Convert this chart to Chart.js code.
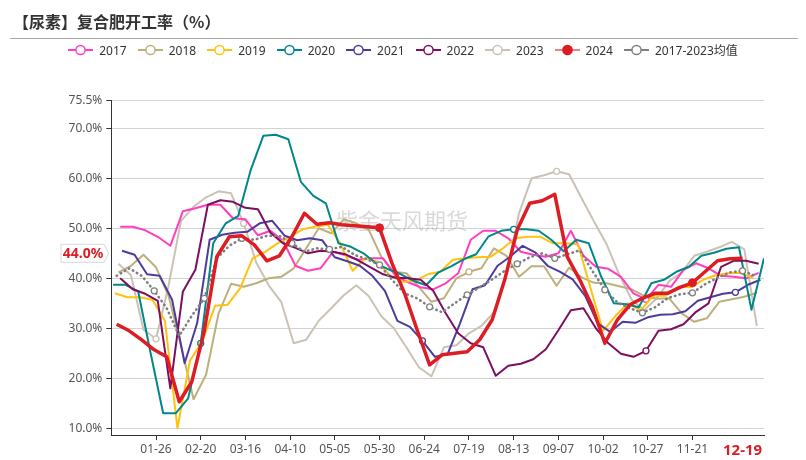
<!DOCTYPE html>
<html><head><meta charset="utf-8">
<script src="https://cdn.jsdelivr.net/npm/chart.js@4.4.1/dist/chart.umd.min.js"></script>
<style>
html,body{margin:0;padding:0;background:#fff;}
#wrap{position:relative;width:806px;height:460px;overflow:hidden;font-family:"Noto Sans","Noto Sans CJK SC",sans-serif;}
canvas{position:absolute;left:0;top:0;}
#title{position:absolute;left:13px;top:9px;font:bold 16px/24px "Noto Sans CJK SC",sans-serif;color:#333;white-space:nowrap;}
#sep{position:absolute;left:10px;top:38px;width:788px;height:0;border-top:1px solid #a8a8a8;}
#legend{position:absolute;left:0;top:42px;width:806px;height:16px;display:flex;justify-content:center;align-items:center;font-size:12px;color:#333;white-space:nowrap;}
.item{display:flex;align-items:center;margin:0 5.5px;}
.item svg{margin-right:6px;}
</style></head>
<body>
<div id="wrap">
<canvas id="c" width="806" height="460"></canvas>
<div id="title">【尿素】复合肥开工率（%）</div>
<div id="sep"></div>
<div id="legend"></div>
</div>
<script>
// ---- data (weekly readings, percent) ----
const seriesNames = ['2017','2018','2019','2020','2021','2022','2023','2024','2017-2023均值'];
const startDays = [6,5,3,2,7,6,5,4,4]; // day-of-year of first weekly reading
const v2017 = [50.3,50.3,49.6,48.3,46.5,53.4,54.0,54.7,54.7,52.0,51.8,48.6,49.5,47.5,42.5,41.5,42.0,45.3,44.6,43.7,44.0,44.0,40.5,39.2,38.2,37.8,39.0,41.0,47.7,49.5,49.5,48.0,45.3,44.7,44.3,45.0,49.5,44.5,42.3,41.9,40.3,37.0,35.8,38.7,38.3,41.7,43.0,42.0,40.5,40.3,40.0,41.1];
const v2018 = [41.2,42.5,44.7,42.2,36.5,26.5,15.8,20.7,33.0,38.9,38.3,39.0,40.0,40.3,42.0,46.0,50.0,49.0,51.8,51.0,49.7,44.3,41.3,41.0,38.3,35.3,36.0,40.0,41.3,42.0,46.0,44.5,40.3,42.4,42.4,38.5,42.1,40.2,39.1,39.0,38.4,37.8,36.5,35.9,36.0,33.0,31.3,32.0,35.3,35.8,36.3,37.1];
const v2019 = [37.0,36.2,36.2,35.7,31.5,10.0,23.5,27.5,34.5,34.7,38.0,44.0,45.3,47.0,48.3,49.8,50.3,50.7,47.0,41.5,44.0,43.3,40.5,39.3,39.5,40.8,41.3,43.7,44.0,44.2,44.3,46.0,48.0,48.3,48.3,47.0,47.0,46.8,38.0,29.5,32.5,35.0,33.6,36.5,36.5,38.3,38.2,39.7,40.6,41.0,41.1,40.0];
const v2020 = [38.7,38.7,37.4,25.0,13.0,13.0,16.0,27.0,47.0,51.0,52.5,61.7,68.5,68.7,67.8,59.3,56.5,55.0,47.0,46.3,45.0,43.0,41.8,40.8,39.5,38.6,41.2,42.4,43.8,44.8,48.4,49.5,49.8,49.8,49.5,47.7,45.4,47.7,47.0,40.3,35.0,34.8,34.2,39.0,39.7,41.3,42.3,44.5,45.1,45.9,46.2,33.7,44.0];
const v2021 = [45.5,44.7,40.8,40.5,35.7,23.0,31.0,47.7,48.7,49.1,49.3,51.0,51.5,48.5,47.6,48.0,47.6,44.2,43.4,42.5,40.5,37.5,31.5,30.3,27.5,24.3,24.8,31.0,37.8,38.6,42.5,44.3,46.5,45.2,42.5,41.3,39.8,36.5,31.0,29.3,31.3,31.1,32.2,32.7,32.8,33.4,35.5,36.2,36.9,37.2,38.7,39.7];
const v2022 = [40.0,37.8,36.9,35.5,18.0,37.3,41.7,54.7,55.6,55.3,54.1,53.8,49.1,47.0,46.1,45.0,45.5,45.3,44.8,43.6,42.2,40.8,40.1,40.0,39.7,37.5,33.0,29.0,27.0,26.2,20.5,22.5,22.9,23.8,25.8,29.6,33.6,34.0,30.0,27.0,24.9,24.3,25.5,29.5,29.8,30.8,33.3,35.0,42.3,43.5,43.5,42.9];
const v2023 = [42.9,40.6,29.7,27.9,38.5,51.5,54.3,56.2,57.4,57.0,51.0,43.2,38.6,35.3,27.0,27.7,31.5,34.0,36.6,38.6,36.4,32.4,30.0,26.2,22.2,20.4,26.2,26.6,29.0,30.5,33.2,41.0,53.0,60.0,60.6,61.4,60.8,56.0,51.3,46.8,40.8,35.7,33.6,36.0,39.4,41.2,44.5,45.3,46.2,47.3,45.8,30.5];
const v2024 = [30.8,29.5,27.7,25.7,24.3,15.3,19.3,29.5,44.3,48.3,48.5,46.7,43.5,44.5,48.3,53.0,50.8,51.1,50.7,50.5,50.3,50.1,43.0,37.0,29.7,22.7,24.7,25.0,25.3,27.7,31.7,39.7,49.7,55.0,55.5,56.8,44.3,39.7,34.3,27.0,31.7,34.7,36.0,37.0,37.0,38.2,39.1,41.3,43.5,43.9,44.0];
const vAvg  = [40.5,42.0,40.5,37.5,34.0,28.5,32.5,36.0,44.0,46.5,48.0,47.7,48.5,48.5,47.0,45.3,46.0,45.8,46.3,44.7,43.8,42.7,39.7,37.0,36.0,34.3,33.2,35.0,36.7,38.2,39.8,41.5,42.9,44.2,45.0,44.0,44.8,45.6,41.5,37.7,35.2,34.0,33.1,34.2,36.0,36.8,37.1,38.8,40.1,41.2,41.5,40.5];
const allValues = [v2017,v2018,v2019,v2020,v2021,v2022,v2023,v2024,vAvg];
const xTickDays = [26,51,76,101,126,151,176,201,226,251,276,301,326,354]; // 01-26 ... 11-21, 12-19
const currentDay = 354;
const yTicks = [10,20,30,40,50,60,70,75.5];
const currentValue = 44.0;
const markerDays = [[301],[201],[],[51,226],[176,351],[301],[26,76,251],[151,326],[26,51,76,101,126,151,176,201,226,251,276,301,326,351]];

// ---- styles ----
const colors = ['#FF3EC0','#BDB07C','#FFC20E','#00878C','#4E3B9C','#7D0F5E','#CBC2B4','#DE1C24','#808080'];
const orders = [6,7,5,3,4,2,8,0,1];

function fmtDay(d){
  const dt = new Date(2024,0,d);
  const m = String(dt.getMonth()+1).padStart(2,'0');
  const dd = String(dt.getDate()).padStart(2,'0');
  return m+'-'+dd;
}

const datasets = allValues.map((vals,si)=>{
  const start = startDays[si];
  const isCur = si===7, isAvg = si===8;
  return {
    label: seriesNames[si],
    data: vals.map((v,i)=>({x:start+7*i, y:v})),
    borderColor: colors[si],
    backgroundColor: colors[si],
    borderWidth: isCur?3.5:(isAvg?2.6:2),
    borderDash: isAvg?[0.5,4.2]:[],
    borderCapStyle: isAvg?'round':'butt',
    borderJoinStyle:'round',
    tension:0,
    order: orders[si],
    pointRadius: ctx=>{
      const d = start+7*ctx.dataIndex;
      return markerDays[si].some(m=>Math.abs(m-d)<=3) ? (isCur?4:3) : 0;
    },
    pointHoverRadius:0,
    pointBackgroundColor: isCur?colors[si]:'#fff',
    pointBorderColor: colors[si],
    pointBorderWidth: isCur?1:1.3
  };
});

// legend (HTML)
const lg = document.getElementById('legend');
seriesNames.forEach((n,si)=>{
  const c = colors[si];
  const isCur = si===7;
  const lineCol = isCur ? 'rgba(222,28,36,0.55)' : c;
  const item = document.createElement('div');
  item.className='item';
  item.innerHTML = '<svg width="25" height="12" viewBox="0 0 25 12"><line x1="0" y1="6" x2="25" y2="6" stroke="'+lineCol+'" stroke-width="2"/><circle cx="12.5" cy="6" r="4.6" fill="'+(isCur?c:'#fff')+'" stroke="'+c+'" stroke-width="1.5"/></svg><span>'+n+'</span>';
  lg.appendChild(item);
});

const overlay = {
  id:'overlay',
  beforeDatasetsDraw(chart){
    const {ctx, chartArea} = chart;
    ctx.save();
    ctx.font = '22px "Noto Sans CJK SC"';
    ctx.fillStyle = 'rgba(165,165,165,0.42)';
    ctx.textAlign='center'; ctx.textBaseline='middle';
    ctx.fillText('紫金天风期货', 402, 221);
    ctx.restore();
  },
  afterDraw(chart){
    const {ctx} = chart;
    const y = chart.scales.y.getPixelForValue(currentValue) - 5;
    ctx.save();
    ctx.beginPath();
    ctx.moveTo(61,y-9); ctx.lineTo(104,y-9); ctx.lineTo(108.5,y); ctx.lineTo(104,y+9); ctx.lineTo(61,y+9); ctx.closePath();
    ctx.fillStyle='#fff'; ctx.fill();
    ctx.strokeStyle='#d8d8d8'; ctx.lineWidth=1; ctx.stroke();
    ctx.font='bold 14px "Noto Sans"';
    ctx.fillStyle='#DE1C24';
    ctx.textAlign='center'; ctx.textBaseline='middle';
    ctx.fillText(currentValue.toFixed(1)+'%', 83, y+0.5);
    ctx.restore();
  }
};

new Chart(document.getElementById('c'), {
  type:'line',
  data:{datasets},
  options:{
    responsive:false,
    animation:false,
    layout:{padding:{top:100.8,right:42,bottom:0,left:0}},
    plugins:{legend:{display:false},tooltip:{enabled:false}},
    scales:{
      x:{
        type:'linear', min:1, max:366,
        afterBuildTicks:s=>{ s.ticks = xTickDays.map(v=>({value:v})); },
        afterFit:s=>{ s.height = 25; },
        grid:{drawOnChartArea:false, drawTicks:true, tickLength:5,
              tickColor: c => (c.tick && c.tick.value===currentDay) ? 'rgba(0,0,0,0)' : '#333'},
        border:{color:'#333', width:1},
        ticks:{autoSkip:false, maxRotation:0, minRotation:0, padding:2,
          callback:v=>fmtDay(v),
          color: c => (c.tick && c.tick.value===currentDay) ? '#DE1C24' : '#555',
          font: c => (c.tick && c.tick.value===currentDay) ? {family:'Noto Sans', size:15, weight:'bold'} : {family:'Noto Sans', size:12}
        }
      },
      y:{
        min:8.66, max:75.5,
        afterBuildTicks:s=>{ s.ticks = yTicks.map(v=>({value:v})); },
        afterFit:s=>{ s.width = 111.3; },
        grid:{color:'#d2d2d2', lineWidth:1, tickColor:'#333', tickLength:5},
        border:{color:'#333', width:1},
        ticks:{padding:4, color:'#555', font:{family:'Noto Sans', size:12}, callback:v=>Number(v).toFixed(1)+'%'}
      }
    }
  },
  plugins:[overlay]
});
</script>
</body></html>
